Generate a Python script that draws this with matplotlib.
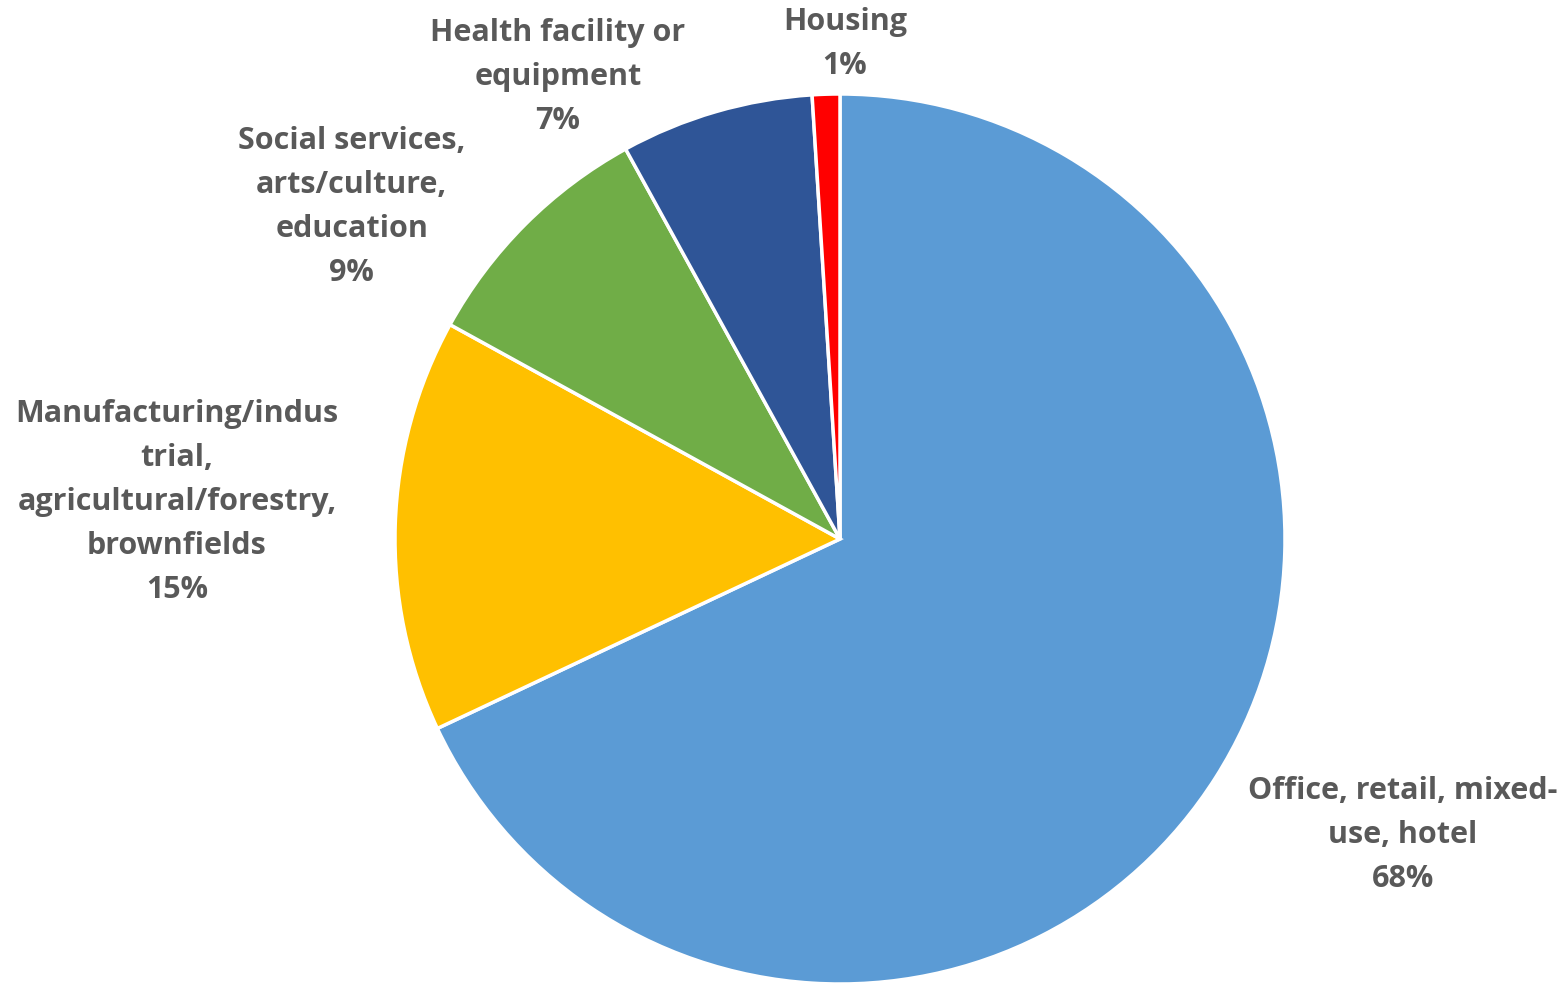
import matplotlib.pyplot as plt

categories = ["Office, retail, mixed-\nuse, hotel",
              "Manufacturing/indus\ntrial,\nagricultural/forestry,\nbrownfields",
              "Social services,\narts/culture,\neducation",
              "Health facility or\nequipment",
              "Housing"]
shares = [68, 15, 9, 7, 1]
colors = ["#5B9BD5", "#FFC000", "#70AD47", "#2F5597", "#FF0000"]

# label anchor points (data coords, pie radius = 1)
label_pos = [(1.265, -0.665), (-1.49, 0.083), (-1.097, 0.746),
             (-0.634, 1.038), (0.011, 1.112)]

plt.rcParams['font.family'] = ['Open Sans', 'DejaVu Sans']

fig = plt.figure(figsize=(15.67, 9.85), dpi=100)
ax = fig.add_axes([395/1567, 1/985, 890/1567, 890/985])
ax.pie(shares, colors=colors, startangle=90, counterclock=False,
       wedgeprops=dict(edgecolor='white', linewidth=2.5))
ax.set_xlim(-1, 1)
ax.set_ylim(-1, 1)
ax.set_aspect('equal')
ax.axis('off')

for cat, val, (x, y) in zip(categories, shares, label_pos):
    ax.text(x, y, f"{cat}\n{val}%", ha='center', va='center',
            fontsize=22, fontweight='bold', color='#595959',
            linespacing=1.6, clip_on=False)

fig.savefig("out.png", dpi=100)
